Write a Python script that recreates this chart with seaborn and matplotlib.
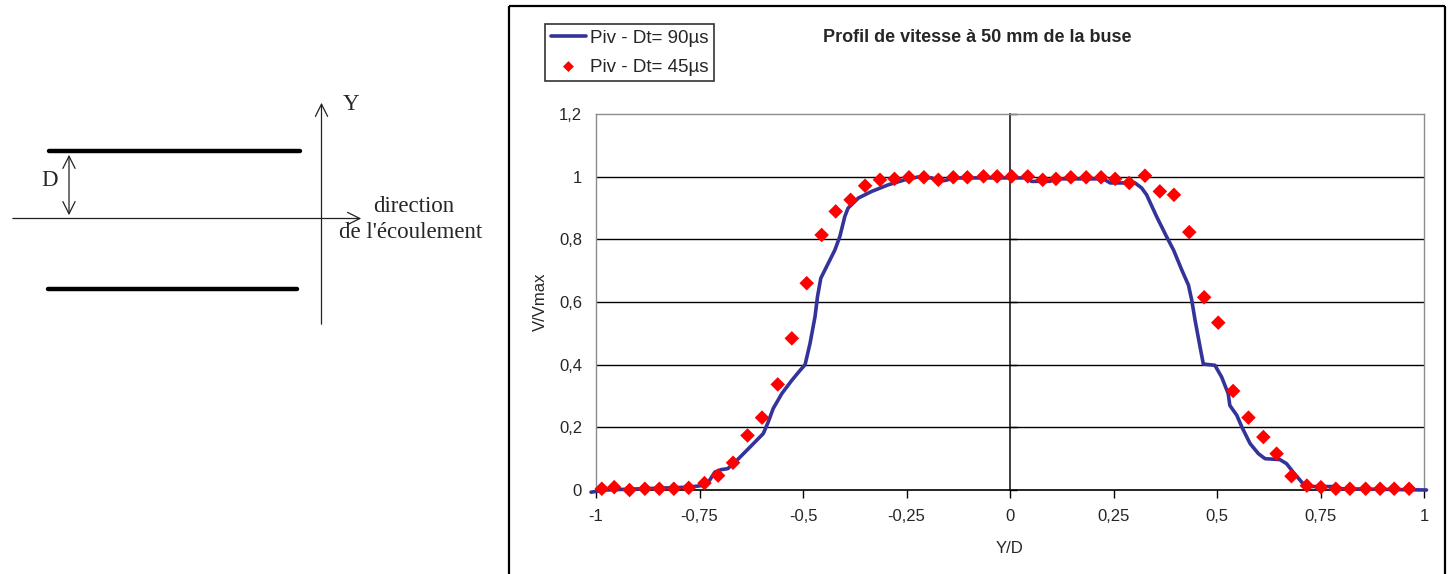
import numpy as np
import pandas as pd
import matplotlib
matplotlib.use("Agg")
import matplotlib.pyplot as plt
import seaborn as sns

# ---------------- data ----------------
# Piv - Dt= 90µs (continuous line)
yd_90 = [-1.012, -0.978, -0.777, -0.745, -0.730, -0.713, -0.698, -0.682, -0.664, -0.628,
         -0.596, -0.584, -0.572, -0.551, -0.527, -0.507, -0.495, -0.483, -0.471, -0.465,
         -0.457, -0.443, -0.423, -0.411, -0.399, -0.391, -0.366, -0.334, -0.294, -0.254,
         -0.222, -0.189, -0.173, -0.157, -0.133, -0.024, 0.040, 0.052, 0.097, 0.105,
         0.225, 0.242, 0.278, 0.286, 0.302, 0.318, 0.330, 0.354, 0.378, 0.395,
         0.415, 0.431, 0.439, 0.447, 0.459, 0.467, 0.495, 0.511, 0.527, 0.531,
         0.548, 0.560, 0.580, 0.600, 0.616, 0.652, 0.668, 0.684, 0.708, 0.729,
         0.789, 0.801, 1.006]
v_90 = [-0.007, 0.000, 0.009, 0.014, 0.022, 0.057, 0.065, 0.068, 0.089, 0.137,
        0.180, 0.217, 0.260, 0.308, 0.350, 0.382, 0.400, 0.468, 0.553, 0.617,
        0.676, 0.713, 0.766, 0.809, 0.873, 0.900, 0.932, 0.953, 0.974, 0.990,
        0.999, 0.996, 0.985, 0.988, 0.996, 0.996, 0.996, 0.985, 0.985, 0.993,
        0.993, 0.980, 0.980, 0.988, 0.980, 0.964, 0.942, 0.873, 0.809, 0.766,
        0.702, 0.654, 0.606, 0.542, 0.457, 0.402, 0.398, 0.361, 0.308, 0.270,
        0.238, 0.201, 0.148, 0.116, 0.100, 0.097, 0.084, 0.057, 0.020, 0.011,
        0.011, 0.004, 0.000]

# Piv - Dt= 45µs (diamond markers)
yd_45 = [-0.986, -0.956, -0.919, -0.882, -0.847, -0.812, -0.776, -0.738, -0.705, -0.669,
         -0.634, -0.599, -0.561, -0.527, -0.491, -0.455, -0.421, -0.385, -0.350, -0.314,
         -0.279, -0.244, -0.208, -0.173, -0.137, -0.103, -0.064, -0.031, 0.004, 0.043,
         0.079, 0.111, 0.147, 0.184, 0.220, 0.254, 0.288, 0.326, 0.362, 0.396,
         0.433, 0.469, 0.503, 0.539, 0.576, 0.612, 0.644, 0.680, 0.717, 0.751,
         0.787, 0.821, 0.859, 0.894, 0.928, 0.964]
v_45 = [0.004, 0.009, 0.000, 0.004, 0.004, 0.004, 0.007, 0.022, 0.046, 0.087,
        0.174, 0.231, 0.337, 0.484, 0.660, 0.814, 0.889, 0.926, 0.971, 0.990,
        0.993, 0.998, 0.998, 0.990, 0.998, 0.998, 1.001, 1.001, 1.001, 1.001,
        0.990, 0.993, 0.998, 0.998, 0.998, 0.993, 0.980, 1.003, 0.953, 0.942,
        0.823, 0.615, 0.534, 0.316, 0.231, 0.169, 0.116, 0.044, 0.014, 0.009,
        0.004, 0.004, 0.004, 0.004, 0.004, 0.004]

x_ticks = [-1, -0.75, -0.5, -0.25, 0, 0.25, 0.5, 0.75, 1]
x_ticklabels = ["-1", "-0,75", "-0,5", "-0,25", "0", "0,25", "0,5", "0,75", "1"]
y_ticks = [0, 0.2, 0.4, 0.6, 0.8, 1, 1.2]
y_ticklabels = ["0", "0,2", "0,4", "0,6", "0,8", "1", "1,2"]

label_90 = "Piv - Dt= 90µs"
label_45 = "Piv - Dt= 45µs"
title = "Profil de vitesse à 50 mm de la buse"

# ---------------- figure ----------------
sns.set_theme(style="white")
plt.rcParams['font.family'] = ['Liberation Sans', 'DejaVu Sans']

W, H = 1449, 574
fig = plt.figure(figsize=(W / 100, H / 100), dpi=100)

# ---- left schematic (overlay axes in pixel coordinates) ----
sk = fig.add_axes([0, 0, 1, 1])
sk.set_xlim(0, W)
sk.set_ylim(H, 0)
sk.axis("off")
sk.plot([49, 300], [151, 151], color="black", lw=3.2, solid_capstyle="round")
sk.plot([48, 297], [289, 289], color="black", lw=3.2, solid_capstyle="round")
arrow_kw = dict(arrowstyle="->", color="#222222", lw=0.9, mutation_scale=22)
sk.annotate("", xy=(364, 218.5), xytext=(10, 218.5), arrowprops=arrow_kw)
sk.annotate("", xy=(321.5, 100), xytext=(321.5, 327), arrowprops=arrow_kw)
sk.annotate("", xy=(69, 152), xytext=(69, 218), arrowprops=dict(arrowstyle="<->", color="#222222",
                                                                  lw=0.9, mutation_scale=22))
serif = ['Liberation Serif', 'DejaVu Serif']
sk.text(50, 181, "D", family=serif, fontsize=16.5, ha="center", va="center")
sk.text(351, 104, "Y", family=serif, fontsize=16.5, ha="center", va="center")
sk.text(373, 207, "direction", family=serif, fontsize=16.5, ha="left", va="center")
sk.text(339, 232, "de l'écoulement", family=serif, fontsize=16.5, ha="left", va="center")

# outer chart border
for (xs, ys) in [([509, 509], [6, 574]), ([509, 1445], [6, 6]), ([1445, 1445], [6, 574])]:
    sk.plot(xs, ys, color="black", lw=1.6, solid_capstyle="butt")

# chart title
sk.text(977, 38, title, fontsize=13, fontweight="bold", ha="center", va="center")

# ---- main chart ----
ax = fig.add_axes([596 / W, 1 - 490 / H, (1424 - 596) / W, (490 - 114) / H])
ax.set_xlim(-1, 1)
ax.set_ylim(0, 1.2)

for yv in y_ticks[1:-1]:
    ax.axhline(yv, color="black", lw=1.0, zorder=1)

df90 = pd.DataFrame({"Y/D": yd_90, "V/Vmax": v_90})
df45 = pd.DataFrame({"Y/D": yd_45, "V/Vmax": v_45})
sns.lineplot(data=df90, x="Y/D", y="V/Vmax", ax=ax, color="#333399", lw=2.6,
             sort=False, estimator=None, label=label_90, zorder=3, clip_on=False)
sns.scatterplot(data=df45, x="Y/D", y="V/Vmax", ax=ax, color="#ff0000", marker="D",
                s=55, edgecolor="none", label=label_45, zorder=4, clip_on=False)

for s in ax.spines.values():
    s.set_color("#8c8c8c")
    s.set_linewidth(1.0)
ax.spines["bottom"].set_color("black")
ax.spines["bottom"].set_linewidth(1.2)

ax.set_xticks(x_ticks)
ax.set_xticklabels(x_ticklabels, fontsize=12)
ax.set_yticks(y_ticks)
ax.set_yticklabels(y_ticklabels, fontsize=12)
ax.tick_params(axis="x", direction="out", length=6, width=1, color="black", pad=8, bottom=True)
ax.tick_params(axis="y", length=0, pad=10)
ax.set_xlabel("Y/D", fontsize=12, labelpad=12)
ax.set_ylabel("V/Vmax", fontsize=12, labelpad=8)

# vertical axis crossing at Y/D = 0
sec = ax.secondary_yaxis(0.5)
sec.set_yticks(y_ticks)
sec.set_yticklabels([])
sec.tick_params(direction="out", length=5, width=1, color="black")
sec.spines["left"].set_color("black")
sec.spines["left"].set_linewidth(1.3)

leg = ax.legend(loc="upper left", bbox_to_anchor=(545 / W, 1 - 24 / H), bbox_transform=fig.transFigure,
                frameon=True, fancybox=False, fontsize=13.5, handlelength=1.9, handletextpad=0.2,
                borderpad=0.3, labelspacing=0.62, borderaxespad=0, markerscale=0.75)
leg.get_frame().set_edgecolor("black")
leg.get_frame().set_linewidth(1.2)

fig.savefig("out.png", dpi=100)
